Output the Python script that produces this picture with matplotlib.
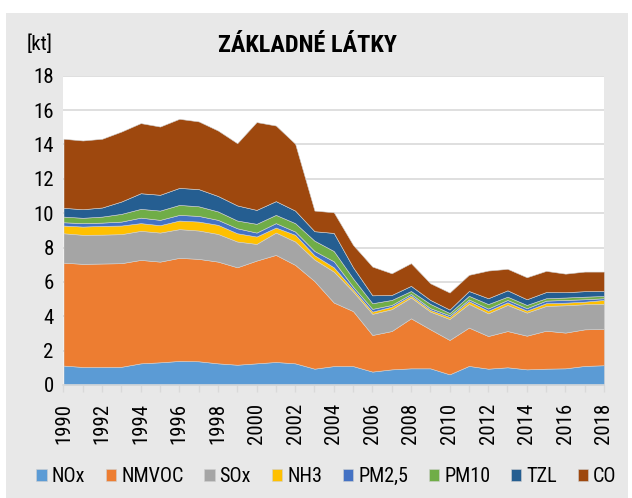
import matplotlib
matplotlib.use('Agg')
import matplotlib.pyplot as plt
from matplotlib.patches import Rectangle
from matplotlib.ticker import MultipleLocator

plt.rcParams['font.family'] = ['Roboto Condensed', 'Liberation Sans', 'DejaVu Sans']
plt.rcParams['font.size'] = 14.5

# data, kt per year
years = list(range(1990, 2019))
nox = [1.13, 1.05, 1.05, 1.06, 1.26, 1.32, 1.40, 1.38, 1.26, 1.18, 1.26, 1.34, 1.26, 0.95, 1.10,
       1.10, 0.78, 0.91, 0.97, 0.97, 0.62, 1.11, 0.95, 1.03, 0.91, 0.95, 0.97, 1.11, 1.15]
nmvoc = [5.99, 6.00, 6.02, 6.03, 6.02, 5.86, 6.00, 5.96, 5.92, 5.67, 5.98, 6.23, 5.73, 5.10, 3.70,
         3.20, 2.13, 2.23, 2.91, 2.27, 2.00, 2.23, 1.90, 2.11, 1.96, 2.21, 2.08, 2.13, 2.11]
sox = [1.71, 1.69, 1.68, 1.69, 1.69, 1.69, 1.67, 1.65, 1.61, 1.50, 0.97, 1.30, 1.36, 1.25, 1.80,
       1.14, 1.23, 1.27, 1.21, 1.03, 1.22, 1.38, 1.32, 1.52, 1.34, 1.44, 1.59, 1.46, 1.46]
nh3 = [0.45, 0.48, 0.51, 0.50, 0.45, 0.43, 0.50, 0.52, 0.53, 0.48, 0.43, 0.29, 0.39, 0.25, 0.25,
       0.13, 0.13, 0.15, 0.11, 0.10, 0.12, 0.16, 0.15, 0.15, 0.12, 0.16, 0.15, 0.15, 0.23]
pm25 = [0.19, 0.20, 0.19, 0.23, 0.32, 0.31, 0.33, 0.33, 0.29, 0.29, 0.23, 0.26, 0.19, 0.25, 0.35,
        0.15, 0.16, 0.10, 0.10, 0.10, 0.10, 0.10, 0.13, 0.14, 0.14, 0.15, 0.16, 0.14, 0.10]
pm10 = [0.33, 0.31, 0.35, 0.45, 0.51, 0.54, 0.58, 0.56, 0.49, 0.45, 0.51, 0.48, 0.49, 0.60, 0.60,
        0.48, 0.33, 0.29, 0.17, 0.25, 0.13, 0.21, 0.26, 0.19, 0.19, 0.14, 0.14, 0.15, 0.13]
tzl = [0.51, 0.50, 0.53, 0.72, 0.91, 0.92, 0.99, 1.00, 0.90, 0.88, 0.81, 0.80, 0.73, 0.55, 1.05,
       0.65, 0.46, 0.29, 0.30, 0.23, 0.20, 0.28, 0.34, 0.37, 0.33, 0.36, 0.31, 0.32, 0.29]
co = [4.02, 4.00, 4.00, 4.07, 4.08, 3.97, 4.02, 3.94, 3.81, 3.62, 5.11, 4.40, 3.89, 1.20, 1.20,
      1.30, 1.67, 1.26, 1.32, 0.97, 0.99, 0.94, 1.61, 1.25, 1.28, 1.23, 1.08, 1.14, 1.13]

labels = ['NOx', 'NMVOC', 'SOx', 'NH3', 'PM2,5', 'PM10', 'TZL', 'CO']
colors = ['#5B9BD5', '#ED7D31', '#A5A5A5', '#FFC000', '#4472C4', '#70AD47', '#255E91', '#9E480E']

fig = plt.figure(figsize=(6.32, 4.98), dpi=100, facecolor='white')
# grey chart area with a thin white margin on top/left
fig.patches.append(Rectangle((6 / 632, 0), 622 / 632, 485 / 498, transform=fig.transFigure,
                             facecolor='#e8e8e8', edgecolor='none', zorder=-10))

ax = fig.add_axes([63.5 / 632, 1 - 385 / 498, (604 - 63.5) / 632, (385 - 75.7) / 498])
ax.set_facecolor('white')
ax.stackplot(years, nox, nmvoc, sox, nh3, pm25, pm10, tzl, co,
             labels=labels, colors=colors, edgecolor='#d0d0d0', linewidth=0.4, zorder=3)

ax.set_xlim(1990, 2018)
ax.set_ylim(0, 18)
ax.yaxis.set_major_locator(MultipleLocator(2))
ax.xaxis.set_major_locator(MultipleLocator(2))
ax.xaxis.set_minor_locator(MultipleLocator(1))
ax.grid(axis='y', color='#d9d9d9', linewidth=1.2, zorder=0)
ax.set_axisbelow(True)

for side in ['top', 'right', 'left']:
    ax.spines[side].set_visible(False)
ax.spines['bottom'].set_color('#d9d9d9')
ax.spines['bottom'].set_linewidth(1.2)
ax.spines['bottom'].set_zorder(4)

ax.tick_params(axis='y', length=0, pad=7, labelsize=15)
ax.tick_params(axis='x', which='both', direction='out', length=5, width=1, color='#d9d9d9',
               pad=8, labelsize=15)
ax.tick_params(axis='x', labelrotation=90)

fig.text(27 / 632, 1 - 44.5 / 498, '[kt]', fontsize=15, va='center', ha='left')
fig.text(308 / 632, 1 - 45 / 498, 'ZÁKLADNÉ LÁTKY', fontsize=17.5, fontweight='bold',
         va='center', ha='center')

fig.legend(loc='center', bbox_to_anchor=(326.5 / 632, 1 - 476.5 / 498), ncol=8, frameon=False,
           handlelength=0.5, handleheight=0.5, handletextpad=0.25, columnspacing=1.04,
           borderaxespad=0, borderpad=0)

fig.savefig('out.png', dpi=100, facecolor=fig.get_facecolor())
